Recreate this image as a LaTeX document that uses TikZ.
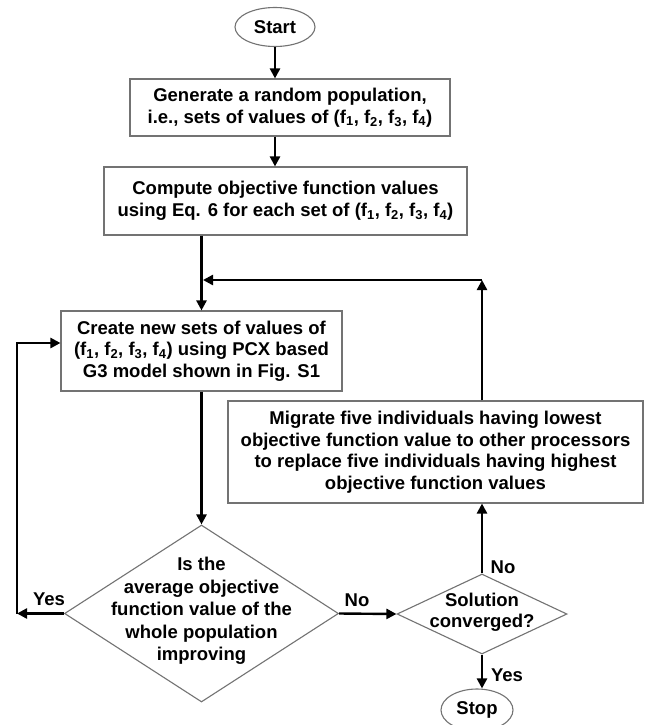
\documentclass[tikz,border=0pt]{standalone}
\usepackage{fontspec}
\setmainfont{Liberation Sans}
\usetikzlibrary{shapes.geometric,arrows.meta}
\begin{document}
\begin{tikzpicture}[x=1pt,y=-1pt,
  every node/.style={font=\bfseries\fontsize{18.5}{21.5}\selectfont, align=center, inner sep=0pt},
  box/.style={draw=black!55, line width=1.1pt, rectangle},
  term/.style={draw=black!55, line width=1.1pt, ellipse},
  decision/.style={draw=black!55, line width=1.1pt, diamond},
  arr/.style={line width=2.4pt, -{Triangle[length=10pt,width=10pt]}},
  plain/.style={line width=2.4pt}]
\useasboundingbox[fill=white] (0,0) rectangle (652,725);

\node[term, minimum width=80pt, minimum height=39pt] (start) at (275,27) {Start};
\node[box, minimum width=320pt, minimum height=57pt] (gen) at (290,107.5)
  {Generate a random population,\\ i.e., sets of values of (f\textsubscript{1}, f\textsubscript{2}, f\textsubscript{3}, f\textsubscript{4})};
\node[box, minimum width=363pt, minimum height=68pt] (comp) at (285.5,201)
  {Compute objective function values\\ using Eq. 6 for each set of (f\textsubscript{1}, f\textsubscript{2}, f\textsubscript{3}, f\textsubscript{4})};
\node[box, minimum width=281pt, minimum height=80pt] (create) at (201.5,351)
  {Create new sets of values of\\ (f\textsubscript{1}, f\textsubscript{2}, f\textsubscript{3}, f\textsubscript{4}) using PCX based\\ G3 model shown in Fig. S1};
\node[box, minimum width=415pt, minimum height=102pt] (mig) at (435.5,452)
  {Migrate five individuals having lowest\\ objective function value to other processors\\ to replace five individuals having highest\\ objective function values};
\node[decision, minimum width=274pt, minimum height=177pt] (d1) at (201.5,613.5) {};
\node[font=\bfseries\fontsize{18.5}{22.5}\selectfont] (d1t) at (201.5,611) {Is the\\ average objective\\ function value of the\\ whole population\\ improving};
\node[decision, minimum width=170pt, minimum height=80pt] (d2) at (482,614) {};
\node (d2t) at (482,612) {Solution\\ converged?};
\node[term, minimum width=72pt, minimum height=42pt] (stop) at (477,710) {Stop};

\node (yes1) at (49,599) {Yes};
\node (no1) at (357,600) {No};
\node (no2) at (503,567) {No};
\node (yes2) at (507,675) {Yes};

\coordinate (corner) at (482,280);
\coordinate (merge) at (203,280);
\coordinate (ycorner) at (17,613.5);

\draw[arr] (start.south) -- (start.south |- gen.north);
\draw[arr] (gen.south -| start.south) -- (comp.north -| start.south);
\draw[arr] (comp.south -| create.north) -- (create.north);
\draw[arr] (mig.north -| d2.north) -- (corner);
\draw[arr] (corner) -- (merge);
\draw[arr] (create.south) -- (d1.north);
\draw[arr] (d1.west) -- (ycorner);
\draw[arr] (ycorner) |- ([yshift=8pt]create.west);
\draw[arr] (d1.east) -- (d2.west);
\draw[arr] (d2.north) -- (d2.north |- mig.south);
\draw[arr] (d2.south) -- (d2.south |- stop.north);
\end{tikzpicture}
\end{document}
